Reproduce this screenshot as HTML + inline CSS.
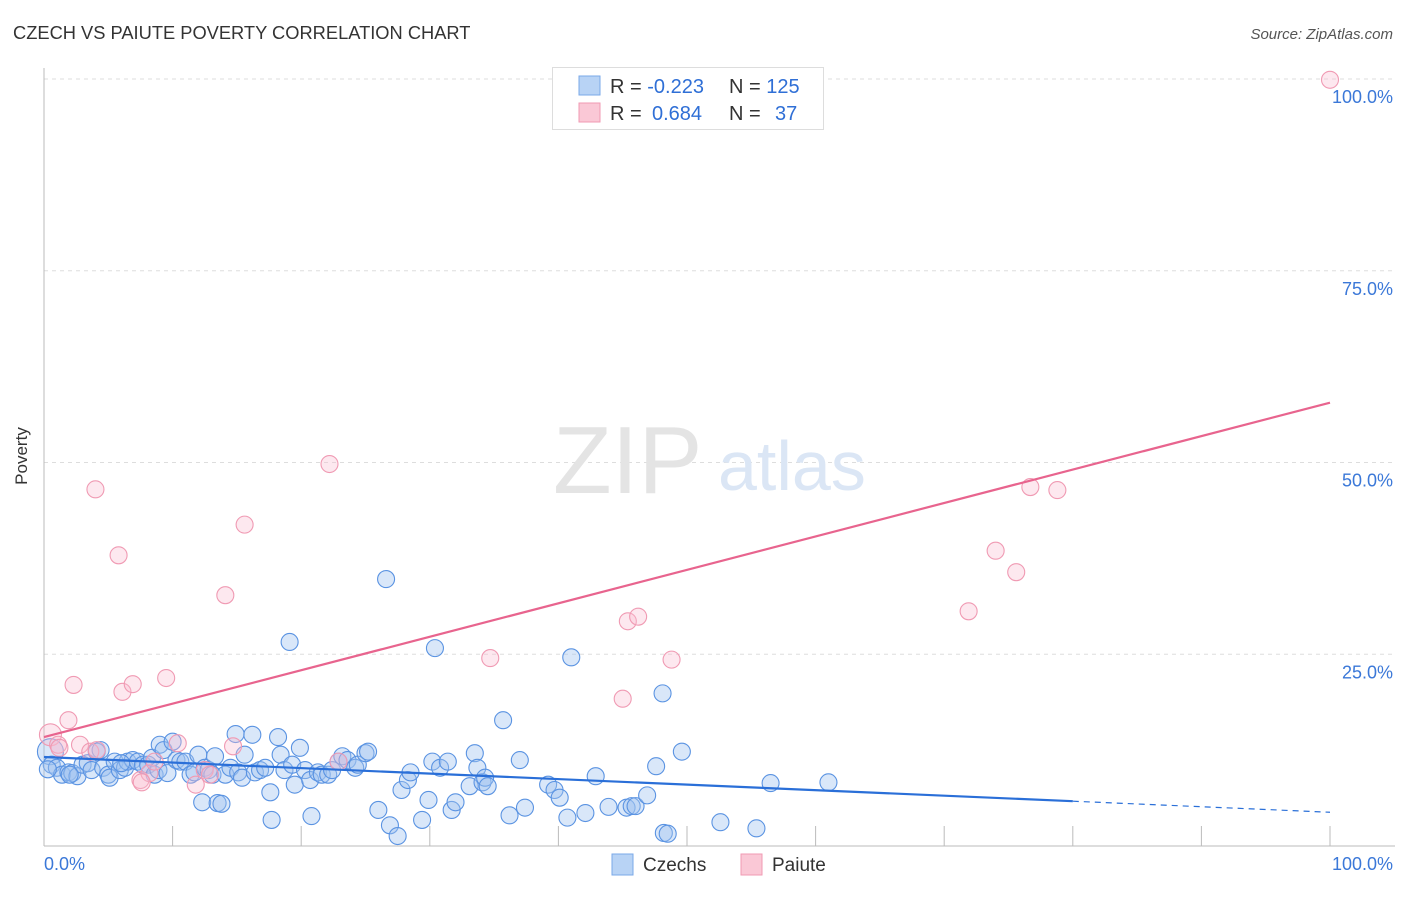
<!DOCTYPE html>
<html><head><meta charset="utf-8"><style>
body{margin:0;background:#fff;font-family:"Liberation Sans",sans-serif;}
svg text{font-family:"Liberation Sans",sans-serif;}
</style></head><body>
<svg width="1406" height="892" viewBox="0 0 1406 892">
<text x="13" y="39" font-size="18.3" fill="#333">CZECH VS PAIUTE POVERTY CORRELATION CHART</text>
<text x="1393" y="39" font-size="15" font-style="italic" fill="#555" text-anchor="end">Source: ZipAtlas.com</text>
<g id="grid"></g>
<g>
<text x="553" y="493" font-size="96" font-family="Liberation Serif" fill="#e4e4e4">ZIP</text>
<text x="718" y="490" font-size="70" fill="#dbe6f5">atlas</text>
</g>
<g id="pts"></g>
<g id="lines"></g>
<text x="27" y="456" font-size="17" fill="#333" transform="rotate(-90 27 456)" text-anchor="middle">Poverty</text>
<g>
<rect x="552.5" y="67.5" width="271" height="62" fill="#fff" stroke="#ddd"/>
<rect x="579" y="76" width="21" height="19" fill="#b8d3f5" stroke="#7aa8e8"/>
<rect x="579" y="103" width="21" height="19" fill="#fac8d6" stroke="#f09ab3"/>
<text x="610" y="93" font-size="20" fill="#333">R = <tspan fill="#2f6fd6">-0.223</tspan></text>
<text x="729" y="93" font-size="20" fill="#333">N = <tspan fill="#2f6fd6">125</tspan></text>
<text x="610" y="120" font-size="20" fill="#333">R = <tspan fill="#2f6fd6" x="652">0.684</tspan></text>
<text x="729" y="120" font-size="20" fill="#333">N = <tspan fill="#2f6fd6" x="775">37</tspan></text>
</g>
<g>
<rect x="612" y="854" width="21" height="21" fill="#b8d3f5" stroke="#7aa8e8"/>
<text x="643" y="871" font-size="19" fill="#333">Czechs</text>
<rect x="741" y="854" width="21" height="21" fill="#fac8d6" stroke="#f09ab3"/>
<text x="772" y="871" font-size="19" fill="#333">Paiute</text>
</g>
</svg>
<script>
const yTicks=[100,75,50,25];
const yTickLabels=["100.0%","75.0%","50.0%","25.0%"];
const czechX=[0.5,0.6,1.0,1.4,1.9,2.2,2.6,3.0,3.4,3.7,4.1,4.4,4.6,5.0,5.1,5.5,5.9,6.3,6.5,6.9,7.3,7.7,8.1,8.4,8.6,8.9,9.0,9.3,9.6,10.0,10.3,10.6,11.0,11.4,11.7,12.0,12.3,12.5,12.8,13.1,13.3,13.5,13.8,14.1,14.5,14.9,15.1,15.4,15.6,16.2,16.4,16.8,17.2,17.6,17.7,18.2,18.4,18.7,19.1,19.3,19.5,19.9,20.3,20.7,20.8,21.3,21.6,22.1,22.4,22.9,23.2,23.6,24.2,24.4,25.0,25.2,26.0,26.6,26.9,27.5,27.8,28.3,28.5,29.4,29.9,30.2,30.4,30.8,31.4,31.7,32.0,33.1,33.5,33.7,34.1,34.3,34.5,35.7,36.2,37.0,37.4,39.2,39.7,40.1,40.7,41.0,42.1,42.9,43.9,45.3,45.7,46.0,46.9,47.6,48.1,48.2,48.5,49.6,52.6,55.4,56.5,61.0,0.3,2.0,6.0];
const czechY=[12.3,10.6,10.2,9.3,9.6,9.5,9.1,10.6,10.8,9.9,12.3,12.5,10.2,9.3,8.9,11.0,9.9,10.2,11.0,11.2,11.0,10.6,10.6,11.5,9.3,9.9,13.2,12.5,9.5,13.6,11.2,11.0,11.0,9.3,9.6,11.9,5.7,10.2,9.9,9.3,11.7,5.6,5.5,9.3,10.2,14.6,9.6,8.9,11.9,14.5,9.6,9.9,10.2,7.0,3.4,14.2,11.9,9.9,26.6,10.6,8.0,12.8,9.9,8.6,3.9,9.6,9.3,9.3,9.9,11.0,11.7,11.2,10.2,10.6,12.1,12.3,4.7,34.8,2.7,1.3,7.3,8.6,9.6,3.4,6.0,11.0,25.8,10.2,11.0,4.7,5.7,7.8,12.1,10.2,8.3,8.9,7.8,16.4,4.0,11.2,5.0,8.0,7.3,6.3,3.7,24.6,4.3,9.1,5.1,5.0,5.2,5.2,6.6,10.4,19.9,1.7,1.6,12.3,3.1,2.3,8.2,8.3,10.0,9.3,10.8];
const paiuteX=[0.5,1.1,1.2,1.9,2.3,2.8,3.6,4.0,4.1,5.8,6.1,6.9,7.5,8.2,8.6,9.5,10.4,11.8,12.5,12.9,14.1,14.7,15.6,22.9,22.2,34.7,45.0,45.4,46.2,48.8,71.9,74.0,75.6,76.7,78.8,100,7.6];
const paiuteY=[14.5,13.2,12.8,16.4,21.0,13.2,12.3,46.5,12.5,37.9,20.1,21.1,8.6,9.5,11.0,21.9,13.4,8.0,9.9,9.3,32.7,13.0,41.9,11.0,49.8,24.5,19.2,29.3,29.9,24.3,30.6,38.5,35.7,46.8,46.4,99.9,8.3];
const czechTrend=[11.6,4.4];
const paiuteTrend=[14.2,57.8];
const NS="http://www.w3.org/2000/svg";
const X0=44,X1=1330,Y0=846,Y100=79;
const sx=v=>X0+(X1-X0)*v/100, sy=v=>Y0-(Y0-Y100)*v/100;
function mk(t,a,p){const e=document.createElementNS(NS,t);for(const k in a)e.setAttribute(k,a[k]);p.appendChild(e);return e;}
const grid=document.getElementById('grid');
yTicks.forEach((t,i)=>{
 const l=mk('line',{x1:X0,x2:1395,y1:sy(t),y2:sy(t),stroke:'#ddd','stroke-dasharray':'4 4'},grid);
 
 
 const tx=mk('text',{x:1393,y:sy(t)+24,'font-size':18,fill:'#3b78d8','text-anchor':'end'},grid);
 tx.textContent=yTickLabels[i];
 
 
});
const ax=mk('line',{x1:X0,x2:1395,y1:Y0,y2:Y0,stroke:'#bbb'},grid);


const ay=mk('line',{x1:X0,x2:X0,y1:68,y2:Y0,stroke:'#bbb'},grid);


for(let v=0;v<=100;v+=10){const t=mk('line',{x1:sx(v),x2:sx(v),y1:826,y2:Y0,stroke:'#bbb'},grid);
 
 }
const xl0=mk('text',{x:44,y:870,'font-size':18,fill:'#3b78d8'},grid);xl0.textContent='0.0%';


const xl1=mk('text',{x:1393,y:870,'font-size':18,fill:'#3b78d8','text-anchor':'end'},grid);xl1.textContent='100.0%';


const pts=document.getElementById('pts');
czechX.forEach((x,i)=>{const c=mk('circle',{cx:sx(x),cy:sy(czechY[i]),r:(i===0?13:8.5),fill:'rgba(160,195,240,0.4)',stroke:'#5a93e2','stroke-width':1.1},pts);
 
 });
paiuteX.forEach((x,i)=>{const c=mk('circle',{cx:sx(x),cy:sy(paiuteY[i]),r:(i===0?11:8.5),fill:'rgba(248,190,208,0.35)',stroke:'#f09ab3','stroke-width':1.1},pts);
 
 });
const lines=document.getElementById('lines');
const yAt=(tr,v)=>tr[0]+(tr[1]-tr[0])*v/100;
const l1=mk('line',{x1:sx(0),y1:sy(yAt(czechTrend,0)),x2:sx(80),y2:sy(yAt(czechTrend,80)),stroke:'#2a6fd8','stroke-width':2.2},lines);


const l2=mk('line',{x1:sx(80),y1:sy(yAt(czechTrend,80)),x2:sx(100),y2:sy(yAt(czechTrend,100)),stroke:'#2a6fd8','stroke-width':1.2,'stroke-dasharray':'6 5'},lines);


const l3=mk('line',{x1:sx(0),y1:sy(paiuteTrend[0]),x2:sx(100),y2:sy(paiuteTrend[1]),stroke:'#e8648e','stroke-width':2.2},lines);


</script>
</body></html>
